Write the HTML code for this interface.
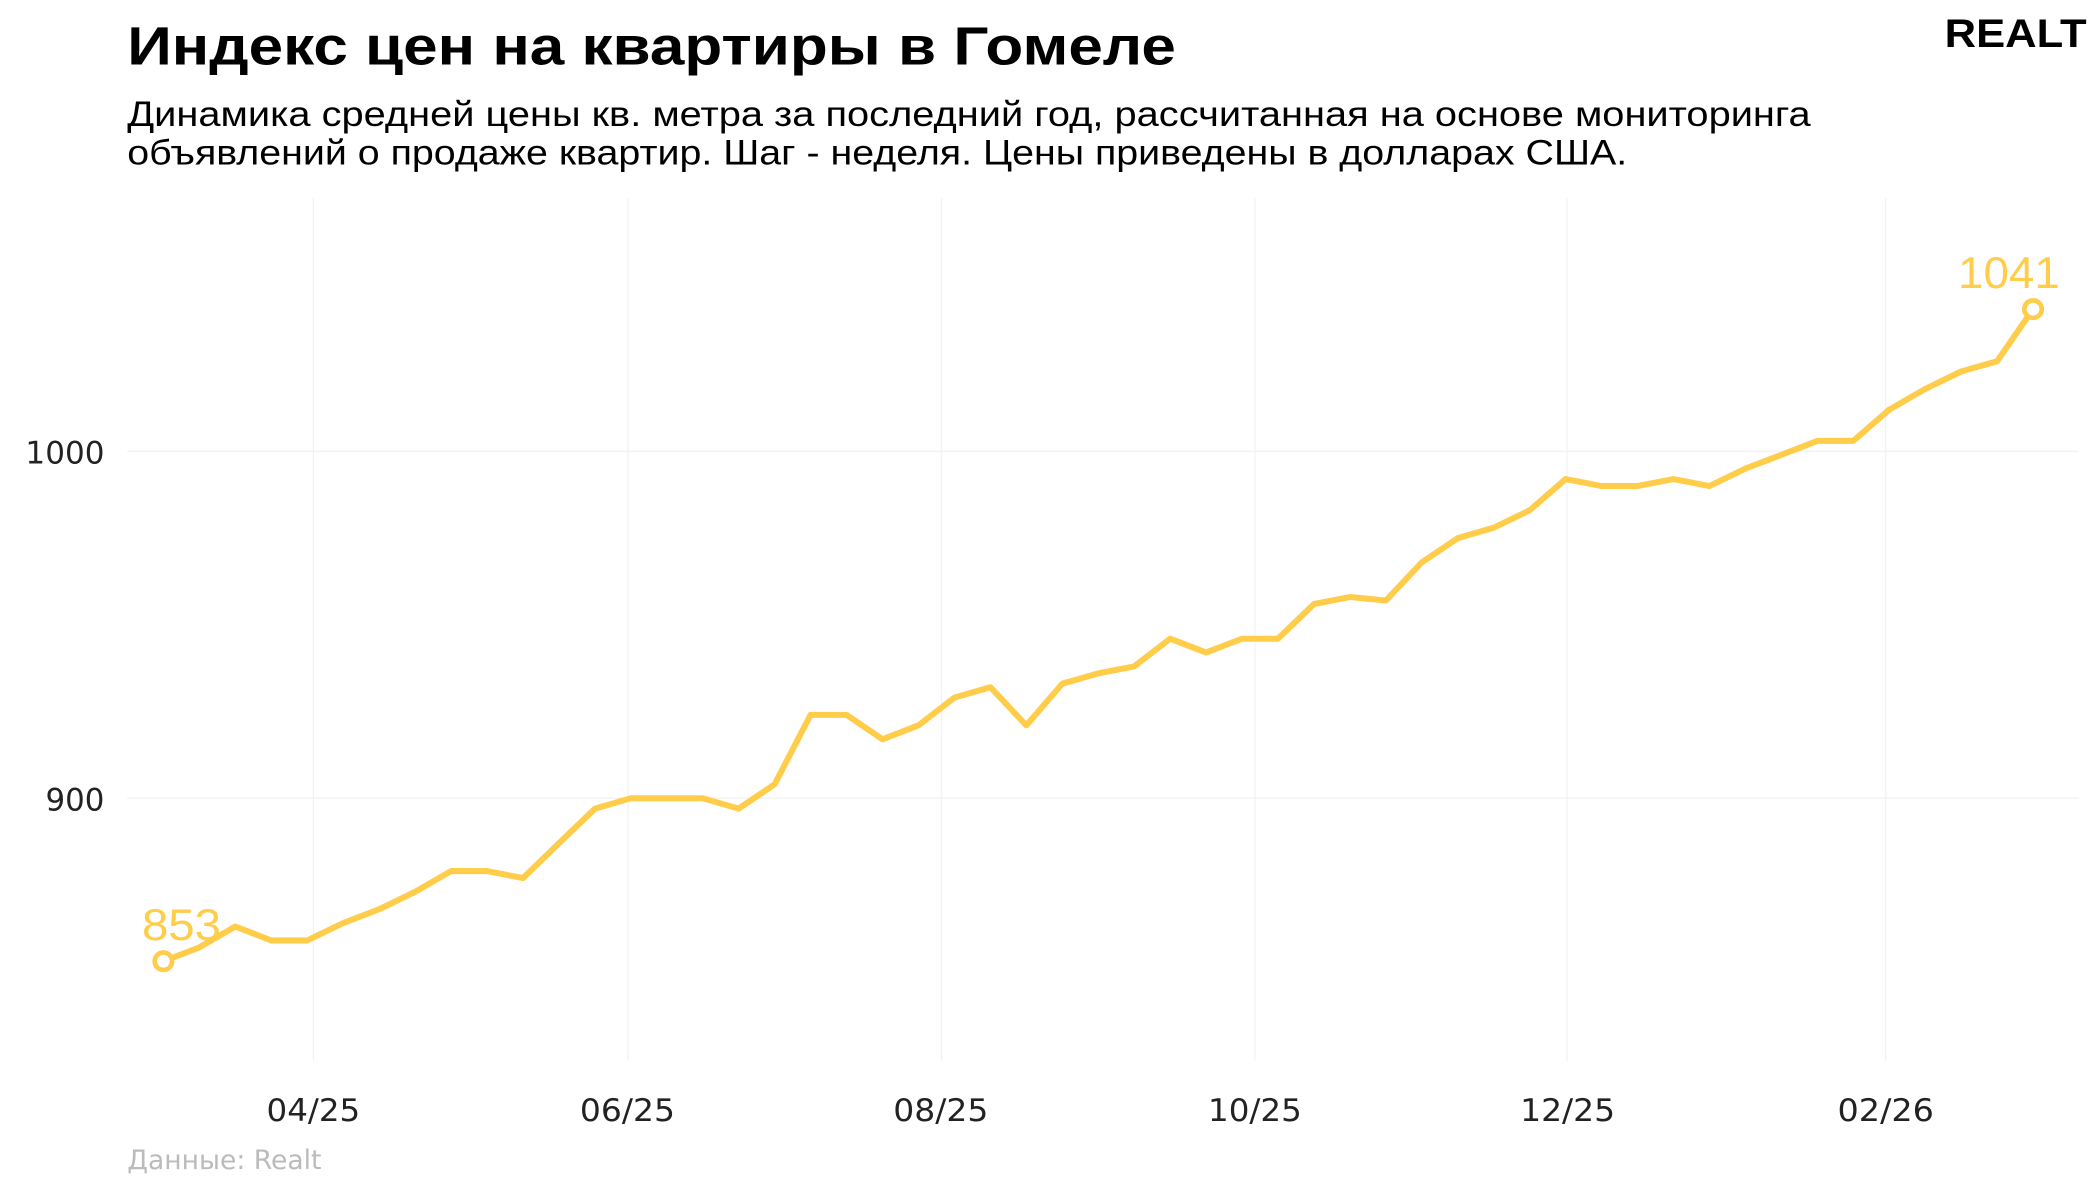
<!DOCTYPE html>
<html><head><meta charset="utf-8"><style>html,body{margin:0;padding:0;background:#fff}svg{display:block}</style></head>
<body>
<svg width="2100" height="1200" viewBox="0 0 1568 896" preserveAspectRatio="none" xmlns="http://www.w3.org/2000/svg" font-family="'Liberation Sans', 'DejaVu Sans', sans-serif">
<g stroke="#f2f2f2" stroke-width="1">
<line x1="234" y1="148" x2="234" y2="792"/><line x1="469" y1="148" x2="469" y2="792"/><line x1="703" y1="148" x2="703" y2="792"/><line x1="937" y1="148" x2="937" y2="792"/><line x1="1170" y1="148" x2="1170" y2="792"/><line x1="1408" y1="148" x2="1408" y2="792"/>
<line x1="95" y1="337" x2="1552" y2="337"/><line x1="95" y1="596" x2="1552" y2="596"/>
</g>
<text x="95" y="48" font-size="40" font-weight="bold" textLength="783" lengthAdjust="spacingAndGlyphs">Индекс цен на квартиры в Гомеле</text>
<text x="95" y="94" font-size="26" textLength="1257" lengthAdjust="spacingAndGlyphs">Динамика средней цены кв. метра за последний год, рассчитанная на основе мониторинга</text>
<text x="95" y="123" font-size="26" textLength="1120" lengthAdjust="spacingAndGlyphs">объявлений о продаже квартир. Шаг - неделя. Цены приведены в долларах США.</text>
<text x="1452" y="35" font-size="30" font-weight="bold" textLength="106" lengthAdjust="spacingAndGlyphs">REALT</text>
<g font-size="23" fill="#222" font-family="'DejaVu Sans', sans-serif">
<text x="19" y="346" textLength="59" lengthAdjust="spacingAndGlyphs">1000</text><text x="34" y="605" textLength="44" lengthAdjust="spacingAndGlyphs">900</text>
<text x="199" y="837" textLength="70" lengthAdjust="spacingAndGlyphs">04/25</text><text x="433" y="837" textLength="71" lengthAdjust="spacingAndGlyphs">06/25</text><text x="667" y="837" textLength="71" lengthAdjust="spacingAndGlyphs">08/25</text><text x="902" y="837" textLength="70" lengthAdjust="spacingAndGlyphs">10/25</text><text x="1135" y="837" textLength="71" lengthAdjust="spacingAndGlyphs">12/25</text><text x="1372" y="837" textLength="72" lengthAdjust="spacingAndGlyphs">02/26</text>
</g>
<text x="95" y="873" font-size="20" fill="#bbb" font-family="'DejaVu Sans', sans-serif" textLength="145" lengthAdjust="spacingAndGlyphs">Данные: Realt</text>
<polyline id="ln" fill="none" stroke="#ffcd4a" stroke-width="4.5" stroke-linejoin="round" points=""/>
<circle id="c1" r="6.5" fill="#fff" stroke="#ffcd4a" stroke-width="3.5"/>
<circle id="c2" r="6.5" fill="#fff" stroke="#ffcd4a" stroke-width="3.5"/>
<text x="106" y="702" font-size="33" fill="#ffcd4a" textLength="59" lengthAdjust="spacingAndGlyphs">853</text>
<text x="1462" y="215" font-size="33" fill="#ffcd4a" textLength="76" lengthAdjust="spacingAndGlyphs">1041</text>
</svg>
<script>
var v=[853,857,863,859,859,864,868,873,879,879,877,887,897,900,900,900,897,904,924,924,917,921,929,932,921,933,936,938,946,942,946,946,956,958,957,968,975,978,983,992,990,990,992,990,995,999,1003,1003,1012,1018,1023,1026,1041];
var p=[],n=v.length;
for(var i=0;i<n;i++){var x=122+i*(1396/(n-1)),y=337-(v[i]-1000)*2.59;p.push(x.toFixed(1)+','+y.toFixed(1));}
document.getElementById('ln').setAttribute('points',p.join(' '));
var a=p[0].split(','),b=p[n-1].split(',');
var c1=document.getElementById('c1'),c2=document.getElementById('c2');
c1.setAttribute('cx',a[0]);c1.setAttribute('cy',a[1]);c2.setAttribute('cx',b[0]);c2.setAttribute('cy',b[1]);
</script>
</body></html>
